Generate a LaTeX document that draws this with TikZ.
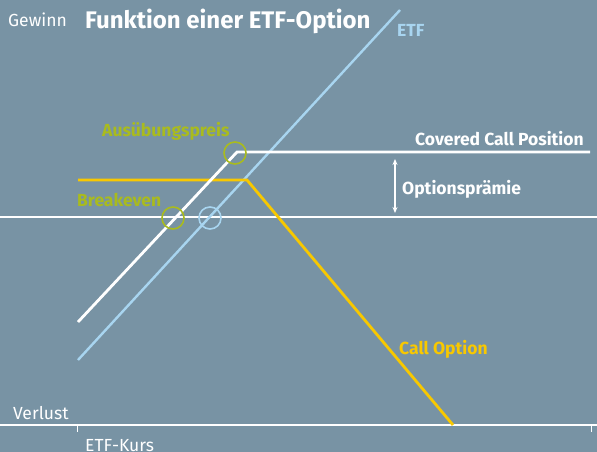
\documentclass[tikz,border=0pt]{standalone}
\usepackage{fontspec}
\setmainfont{Fira Sans}
\usetikzlibrary{positioning,arrows.meta}
\definecolor{bgslate}{HTML}{7893A4}
\definecolor{etfblue}{HTML}{A8D5F0}
\definecolor{markolive}{HTML}{A9BB1E}
\definecolor{callyellow}{HTML}{F8C800}
\begin{document}
\begin{tikzpicture}[x=1pt,y=-1pt,
  txt/.style={inner sep=0pt, anchor=base west, text=white, font=\fontsize{17.5}{17.5}\selectfont},
  bold/.style={txt, font=\fontsize{17.5}{17.5}\selectfont\bfseries},
  axisline/.style={white, line width=1.6pt},
  payoff/.style={line width=2.8pt},
  ring/.style={circle, draw, line width=1.6pt, minimum size=22pt, inner sep=0pt}]
% background
\fill[bgslate] (0,0) rectangle (597,452);
\useasboundingbox (0,0) rectangle (597,452);
% axes
\coordinate (zl) at (0,217);
\coordinate (zr) at (597,217);
\coordinate (al) at (0,425);
\coordinate (ar) at (597,425);
\coordinate (t1) at (77,425);
\coordinate (t2) at (591,425);
\draw[axisline] (zl) -- (zr);
\draw[axisline] (al) -- (ar);
\draw[white, line width=1pt] (t1) -- ++(0,7);
\draw[white, line width=1pt] (t2) -- ++(0,7);
% points
\coordinate (e0) at (78,360);
\coordinate (e1) at (400,10);
\coordinate (c0) at (78,322);
\coordinate (ck) at (237,152);
\coordinate (c1) at (590,152);
\coordinate (o0) at (78,180);
\coordinate (ok) at (247,180);
\coordinate (o1) at (453,425);
% lines
\draw[payoff, etfblue, line width=2.4pt] (e0) -- (e1);
\draw[payoff, callyellow, line join=miter] (o0) -- (ok) -- (o1);
\draw[payoff, white] (c0) -- (ck) -- (c1);
% rings
\node[ring, draw=markolive] (strike) at (235,153) {};
\node[ring, draw=markolive] (breakeven) at (173,218) {};
\node[ring, draw=etfblue] (etfzero) at (210,218) {};
% premium arrow
\coordinate (p0) at (395,159);
\coordinate (p1) at (395,213);
\draw[white, line width=1.2pt, {Stealth[length=6pt,width=5pt]}-{Stealth[length=6pt,width=5pt]}] (p0) -- (p1);
% labels
\node[txt] (gewinn) at (8,27) {Gewinn};
\node[bold, font=\fontsize{24}{24}\selectfont\bfseries] (title) at (85,29) {Funktion einer ETF-Option};
\node[bold, text=etfblue] (etf) at (397,37) {ETF};
\node[bold, text=markolive] (lstrike) at (102,136) {Ausübungspreis};
\node[bold, text=markolive] (lbreak) at (77,206) {Breakeven};
\node[bold] (lcovered) at (415,145) {Covered Call Position};
\node[bold] (lpremium) at (402,194) {Optionsprämie};
\node[bold, text=callyellow] (lcall) at (399,354) {Call Option};
\node[txt] (verlust) at (13,419) {Verlust};
\node[txt] (kurs) at (85,451) {ETF-Kurs};
\end{tikzpicture}
\end{document}
